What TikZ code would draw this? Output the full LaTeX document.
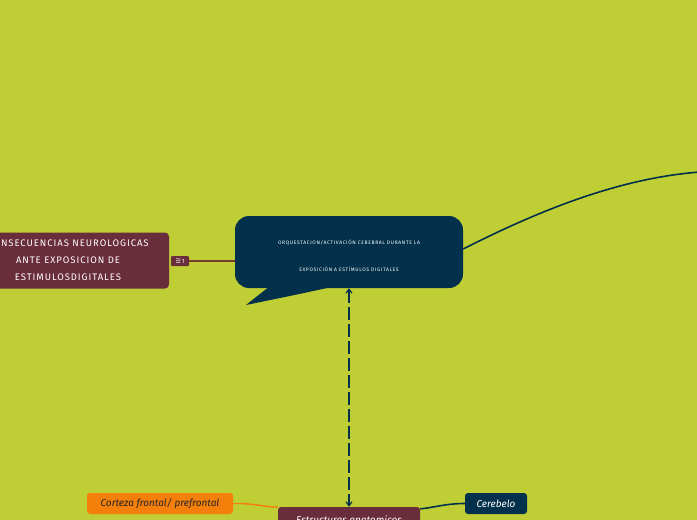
\documentclass[tikz,border=0pt]{standalone}
\usepackage{fontspec}
\setmainfont{Fira Sans}
\newfontfamily\symfont{DejaVu Sans}
\usetikzlibrary{arrows.meta}
\definecolor{bgc}{RGB}{191,206,52}
\definecolor{navy}{RGB}{3,48,74}
\definecolor{plum}{RGB}{106,45,60}
\definecolor{orng}{RGB}{244,127,10}
\definecolor{brownline}{RGB}{122,58,44}
\tikzset{
  topic/.style={rounded corners=3pt, inner sep=0pt, font=\fontsize{10}{11}\selectfont\itshape},
  conn/.style={line width=1.6pt},
}
\begin{document}
\begin{tikzpicture}[x=1pt,y=-1pt]
\useasboundingbox (0,0) rectangle (697,520);
\fill[bgc] (0,0) rectangle (697,520);
\clip (0,0) rectangle (697,520);
% central callout
\node[fill=navy, rounded corners=14pt, minimum width=228pt, minimum height=72pt, inner sep=0pt]
  (central) at (349,252) {};
\node[text=white, align=center, inner sep=0pt, font=\fontsize{5}{5}\selectfont\addfontfeatures{LetterSpace=13}]
  (centraltext) at (349,255.5) {ORQUESTACION/ACTIVACIÓN CEREBRAL DURANTE LA\\[21pt]EXPOSICIÓN A ESTÍMULOS DIGITALES};
\fill[navy] (270,286) -- (246,305) .. controls (275,299) and (305,293) .. (336,286) -- cycle;
% left node
\node[fill=plum, rounded corners=4pt, minimum width=202pt, minimum height=56pt, inner sep=0pt,
  text=white, align=center, font=\fontsize{9.5}{17}\selectfont\addfontfeatures{LetterSpace=10}]
  (conseq) at (68,260.5) {CONSECUENCIAS NEUROLOGICAS\\ANTE EXPOSICION DE\\ESTIMULOSDIGITALES};
\node[fill=plum, rounded corners=1pt, minimum width=18pt, minimum height=10pt, inner sep=0pt,
  text=white, font=\fontsize{6}{6}\selectfont] (badge) at (180,261) {{\symfont ☰}\,1};
\draw[brownline, line width=1.5pt] (badge.east) -- (central.west |- badge.east);
% right connector
\coordinate (rightend) at (700,172);
\draw[navy, conn] (central.east) ++(0,-3) .. controls (540,210) and (620,178) .. (rightend);
% bottom nodes
\node[fill=plum, topic, minimum width=142pt, minimum height=26pt, text=white] (estr) at (349,520) {Estructuras anatomicos};
\node[fill=orng, topic, minimum width=146pt, minimum height=21pt, text=black!85] (corteza) at (160,503.5) {Corteza frontal/ prefrontal};
\node[fill=navy, topic, minimum width=62pt, minimum height=21pt, text=white] (cerebelo) at (496,503.5) {Cerebelo};
\draw[orng, line width=1.4pt] (corteza.east) .. controls (255,503) and (268,508) .. (estr.north west);
\draw[navy, line width=1.6pt] (estr.north east) ++(0,2) .. controls (432,508) and (445,503.5) .. (cerebelo.west);
\draw[navy, line width=1.2pt, dash pattern=on 13pt off 4pt, {Straight Barb[length=4pt,width=6pt]}-{Straight Barb[length=4pt,width=6pt]}]
  (central.south) -- (estr.north);
\end{tikzpicture}
\end{document}
